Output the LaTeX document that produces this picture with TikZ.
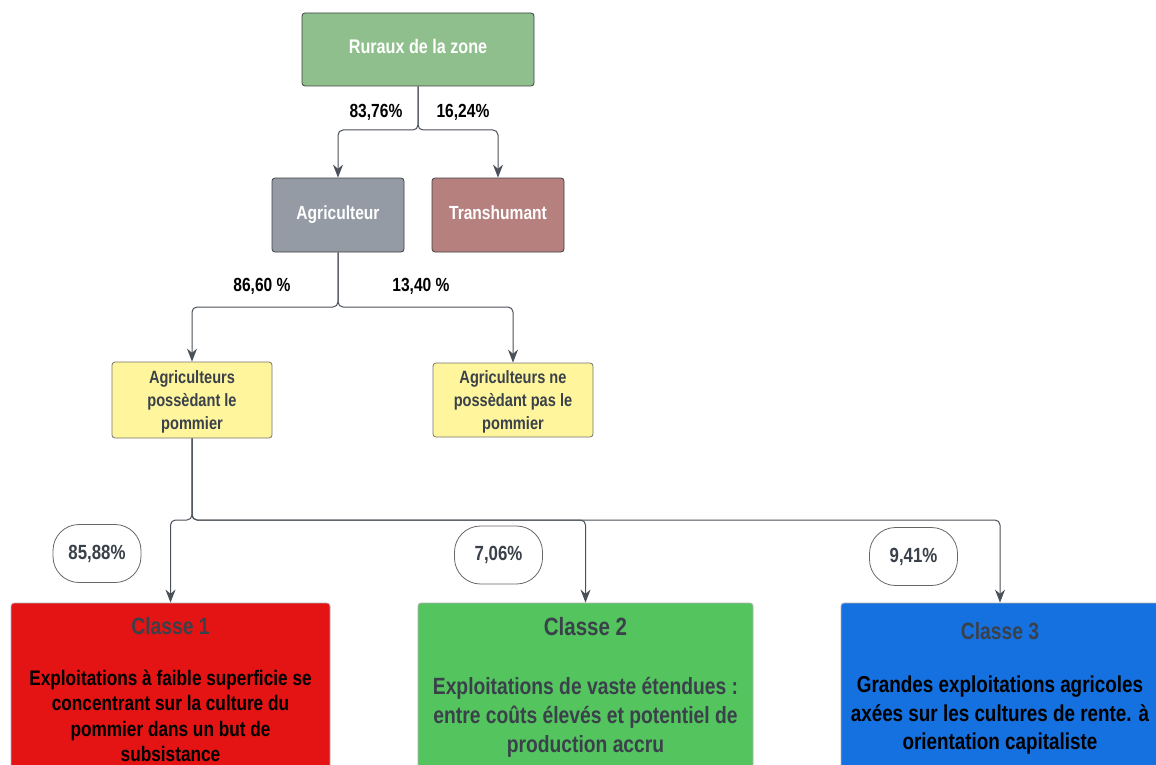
\documentclass[tikz,border=0pt]{standalone}
\usepackage{fontspec}
\setmainfont{Liberation Sans}[FakeStretch=0.82]
\usepackage{xcolor}
\usetikzlibrary{arrows.meta, positioning, calc}
\definecolor{vertrur}{RGB}{143,191,140}
\definecolor{grisagr}{RGB}{149,155,165}
\definecolor{rougetr}{RGB}{181,128,126}
\definecolor{jaunepom}{RGB}{255,245,157}
\definecolor{sombre}{RGB}{58,65,74}
\definecolor{trait}{RGB}{74,80,88}
\definecolor{classeun}{RGB}{228,20,20}
\definecolor{classedeux}{RGB}{84,196,94}
\definecolor{classetrois}{RGB}{21,112,224}
\tikzset{
  boite/.style={rectangle, rounded corners=3pt, draw=black!75, line width=0.8pt, text centered, text=white, text height=14pt, text depth=5pt, font=\bfseries\fontsize{19}{23}\selectfont},
  pomme/.style={rectangle, rounded corners=3pt, draw=black!55, line width=0.8pt, fill=jaunepom, align=center, text=sombre, minimum width=160, minimum height=76, font=\bfseries\fontsize{17.8}{23}\selectfont},
  classe/.style={rectangle, rounded corners=3pt, draw=black!30, line width=0.8pt, minimum width=319, minimum height=180},
  pct/.style={font=\bfseries\fontsize{19}{23}\selectfont, text=black},
  arrow/.style={-{Stealth[length=13pt,width=10pt]}, line width=1pt, color=trait, rounded corners=5pt}
}
\begin{document}
\begin{tikzpicture}[x=1pt, y=-1pt,
  pilule/.style={rectangle, rounded corners=26pt, draw=black!60, line width=0.8pt, fill=white, minimum width=88, minimum height=58, text=sombre, font=\bfseries\fontsize{20.5}{24}\selectfont},
  titre/.style={text=sombre, font=\bfseries\fontsize{25}{29}\selectfont},
  corps/.style={align=center, font=\bfseries\fontsize{21}{25.5}\selectfont}]
  \clip (0,0) rectangle (1156,765);
  % Niveau 1 : population rurale
  \node (rur) [boite, fill=vertrur, minimum width=232, minimum height=73, font=\bfseries\fontsize{19.7}{23}\selectfont] at (418,49.5) {Ruraux de la zone};
  \node (agr) [boite, fill=grisagr, minimum width=132, minimum height=74] at (338,215) {Agriculteur};
  \node (tra) [boite, fill=rougetr, minimum width=132, minimum height=74] at (498,215) {Transhumant};
  \coordinate (j1) at (418,130);
  \draw [arrow] (rur.south) -- (j1) -| (agr.north);
  \draw [arrow] (rur.south) -- (j1) -| (tra.north);
  \node (p1) [pct] at (376,112) {83,76\%};
  \node (p2) [pct] at (463,112) {16,24\%};
  % Niveau 2 : possession du pommier
  \node (pom1) [pomme, text depth=-7pt] at (192,400) {Agriculteurs\\possèdant le\\pommier};
  \node (pom2) [pomme, minimum height=74, text depth=-7pt] at (513,400) {Agriculteurs ne\\possèdant pas le\\pommier};
  \coordinate (j2) at (338,307);
  \draw [arrow] (agr.south) -- (j2) -| (pom1.north);
  \draw [arrow] (agr.south) -- (j2) -| (pom2.north);
  \node (p3) [pct] at (262,286) {86,60 \%};
  \node (p4) [pct] at (421,286) {13,40 \%};
  % Niveau 3 : classes d'exploitations
  \node (c1) [classe, fill=classeun] at (170.5,693) {};
  \node (c2) [classe, fill=classedeux, minimum width=335] at (585.5,693) {};
  \node (c3) [classe, fill=classetrois, minimum width=318] at (1000,693) {};
  \coordinate (j3) at (192,520);
  \draw [arrow] (pom1.south) -- (j3) -| (c1.north);
  \draw [arrow] (pom1.south) -- (j3) -| (c2.north);
  \draw [arrow] (pom1.south) -- (j3) -| (c3.north);
  \node (q1) [pilule] at (97,553.5) {85,88\%};
  \node (q2) [pilule] at (498.5,555) {7,06\%};
  \node (q3) [pilule] at (913.5,556.5) {9,41\%};
  \node (t1) [titre, font=\bfseries\fontsize{23.5}{28}\selectfont] at (170.5,626) {Classe 1};
  \node (t2) [titre] at (585.5,627) {Classe 2};
  \node (t3) [titre, font=\bfseries\fontsize{23.5}{28}\selectfont] at (1000,631) {Classe 3};
  \node (d1) [corps, text=black] at (170.5,716) {Exploitations à faible superficie se\\concentrant sur la culture du\\pommier dans un but de\\subsistance};
  \node (d2) [corps, text=sombre, font=\bfseries\fontsize{23.5}{29}\selectfont] at (585.5,717) {Exploitations de vaste étendues :\\entre coûts élevés et potentiel de\\production accru};
  \node (d3) [corps, text=black, font=\bfseries\fontsize{23}{28.5}\selectfont] at (1000,715.5) {Grandes exploitations agricoles\\axées sur les cultures de rente. à\\orientation capitaliste};
\end{tikzpicture}
\end{document}
